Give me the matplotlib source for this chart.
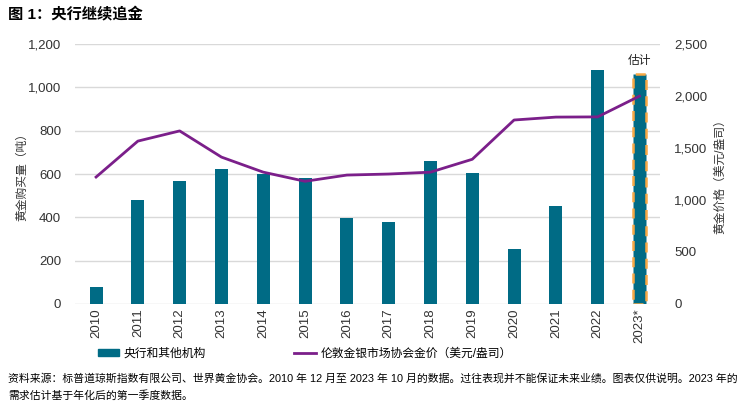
import matplotlib
matplotlib.use("Agg")
import matplotlib.pyplot as plt
from matplotlib.patches import Patch
from matplotlib.lines import Line2D

plt.rcParams['font.family'] = ['Liberation Sans', 'Noto Sans CJK SC', 'DejaVu Sans']

years = ["2010", "2011", "2012", "2013", "2014", "2015", "2016", "2017",
         "2018", "2019", "2020", "2021", "2022", "2023*"]
cb_tonnes = [80, 480, 567, 625, 600, 580, 395, 380, 658, 605, 255, 450, 1080, 1060]
gold_price = [1221, 1567, 1665, 1413, 1268, 1180, 1240, 1250, 1268, 1392, 1770, 1798, 1800, 2000]

bar_color = "#006B85"
line_color = "#7B1F8A"
est_color = "#F7A844"

fig = plt.figure(figsize=(7.37, 4.09), dpi=100)
ax = fig.add_axes([0.102, 0.257, 0.794, 0.635])
x = list(range(len(years)))

bars = ax.bar(x, cb_tonnes, width=0.31, color=bar_color, zorder=2)
# estimated year gets a dashed orange outline
bars[-1].set_edgecolor(est_color)
bars[-1].set_linestyle((0, (4, 2.5)))
bars[-1].set_linewidth(1.8)
ax.text(x[-1], 1095, "估计", ha="center", va="bottom", fontsize=8.5, color="#222222")

ax.set_xlim(-0.5, 13.5)
ax.set_ylim(0, 1200)
ax.set_yticks(range(0, 1201, 200))
ax.set_yticklabels([f"{v:,}" for v in range(0, 1201, 200)])
ax.set_xticks(x)
ax.set_xticklabels(years, rotation=90)
ax.grid(axis="y", color="#d9d9d9", linewidth=1, zorder=0)
ax.set_axisbelow(True)
for s in ax.spines.values():
    s.set_visible(False)
ax.tick_params(axis="both", length=0, labelsize=9.5, colors="#333333")
ax.tick_params(axis="y", pad=10)
ax.set_ylabel("黄金购买量（吨）", fontsize=8.5, color="#333333")
ax.yaxis.set_label_coords(-0.08, 0.5)

ax2 = ax.twinx()
ax2.plot(x, gold_price, color=line_color, linewidth=2, zorder=3)
ax2.set_ylim(0, 2500)
ax2.set_yticks(range(0, 2501, 500))
ax2.set_yticklabels([f"{v:,}" for v in range(0, 2501, 500)])
for s in ax2.spines.values():
    s.set_visible(False)
ax2.tick_params(axis="y", length=0, labelsize=9.5, colors="#333333", pad=10)
ax2.set_ylabel("黄金价格（美元/盎司）", fontsize=8.5, color="#333333")
ax2.yaxis.set_label_coords(1.092, 0.5)

fig.text(0.011, 0.965, "图 1：央行继续追金", fontsize=11, fontweight="bold", va="center")

handles = [Patch(color=bar_color, label="央行和其他机构"),
           Line2D([0], [0], color=line_color, linewidth=2, label="伦敦金银市场协会金价（美元/盎司）")]
fig.legend(handles=handles, loc="center left", bbox_to_anchor=(0.118, 0.135), ncol=2,
           frameon=False, fontsize=8.5, columnspacing=7.5, handlelength=1.8,
           handleheight=0.6, handletextpad=0.4)

fig.text(0.011, 0.075, "资料来源：标普道琼斯指数有限公司、世界黄金协会。2010 年 12 月至 2023 年 10 月的数据。过往表现并不能保证未来业绩。图表仅供说明。2023 年的",
         fontsize=7.8, va="center")
fig.text(0.011, 0.032, "需求估计基于年化后的第一季度数据。", fontsize=7.8, va="center")

fig.savefig("out.png", dpi=100)
